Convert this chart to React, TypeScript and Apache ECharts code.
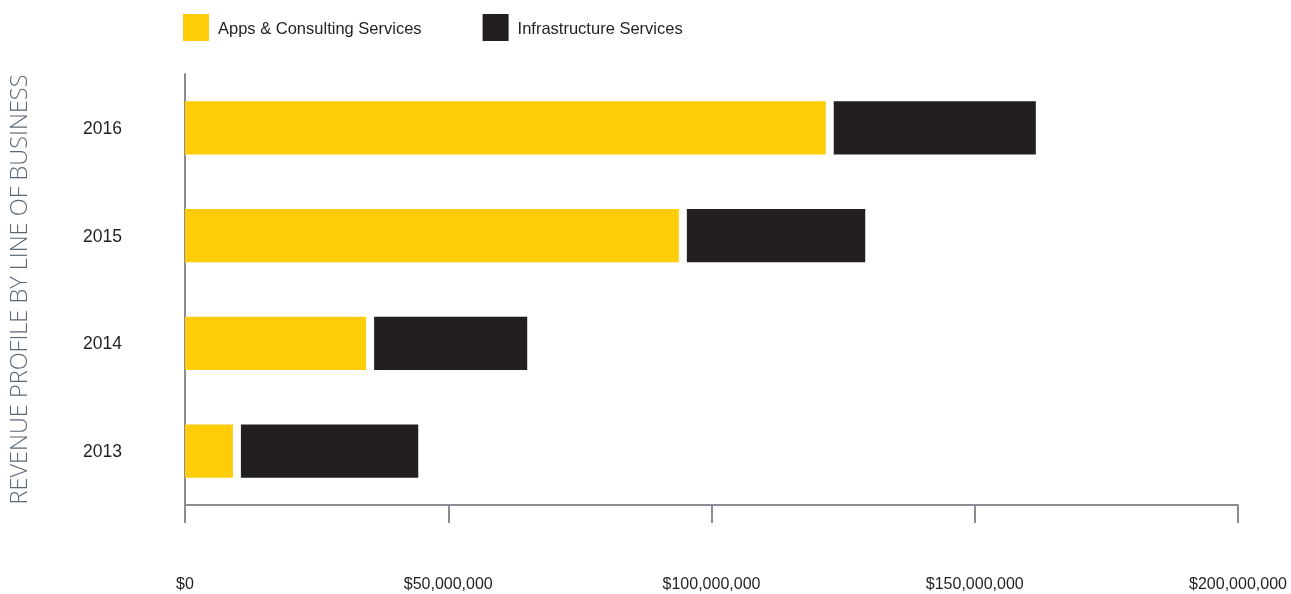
import React, { useEffect, useRef } from "react";
import * as echarts from "echarts";

const years = ["2013", "2014", "2015", "2016"];
const appsConsulting = [9100000, 34400000, 93800000, 121700000];
const infrastructure = [35200000, 30600000, 35400000, 39900000];
const xTicks = [0, 50000000, 100000000, 150000000, 200000000];

const YELLOW = "#ffcd08";
const BLACK = "#231f20";
const AXIS = "#8b8b93";
const FONT = "'Liberation Sans', Arial, sans-serif";

export default function App() {
  const ref = useRef<HTMLDivElement>(null);
  useEffect(() => {
    const chart = echarts.init(ref.current!, null, { renderer: "svg" });
    const makeRender = (gap: number) => (params: any, api: any) => {
      const cat = api.value(0);
      const s = api.value(1);
      const e = api.value(2);
      const p0 = api.coord([s, cat]);
      const p1 = api.coord([e, cat]);
      const h = api.size([0, 1])[1] * 0.492;
      return {
        type: "rect",
        shape: { x: p0[0] + gap, y: p0[1] - h / 2, width: Math.max(0, p1[0] - p0[0] - gap), height: h },
        style: api.style(),
      };
    };
    const yellowData = years.map((_, i) => [i, 0, appsConsulting[i]]);
    const blackData = years.map((_, i) => [i, appsConsulting[i], appsConsulting[i] + infrastructure[i]]);
    chart.setOption({
      animation: false,
      legend: {
        left: 178,
        top: 9,
        itemWidth: 26,
        itemHeight: 27,
        itemGap: 61,
        icon: "rect",
        textStyle: { fontFamily: FONT, fontSize: 16.5, color: BLACK, padding: [0, 0, 0, 4] },
        data: ["Apps & Consulting Services", "Infrastructure Services"],
      },
      grid: { left: 185, right: 53, top: 74, bottom: 89, containLabel: false, outerBoundsMode: "none" },
      xAxis: {
        type: "value",
        min: xTicks[0],
        max: xTicks[xTicks.length - 1],
        interval: xTicks[1] - xTicks[0],
        axisLine: { show: true, lineStyle: { color: AXIS, width: 2 } },
        axisTick: { show: true, length: 18, lineStyle: { color: AXIS, width: 2 } },
        splitLine: { show: false },
        axisLabel: {
          margin: 70,
          fontFamily: FONT,
          fontSize: 16,
          color: BLACK,
          formatter: (v: number) => "$" + v.toLocaleString("en-US"),
        },
      },
      yAxis: {
        type: "category",
        data: years,
        name: "REVENUE PROFILE BY LINE OF BUSINESS",
        nameLocation: "middle",
        nameRotate: 90,
        nameGap: 155,
        nameTextStyle: { fontFamily: "'Open Sans', sans-serif", fontWeight: 300, fontSize: 23.5, color: "#5d6875" },
        axisLine: { show: true, lineStyle: { color: AXIS, width: 2 } },
        axisTick: { show: false },
        axisLabel: { margin: 63, fontFamily: FONT, fontSize: 17.5, color: BLACK },
      },
      series: [
        {
          name: "Apps & Consulting Services",
          type: "custom",
          renderItem: makeRender(0),
          itemStyle: { color: YELLOW },
          encode: { x: [1, 2], y: 0 },
          data: yellowData,
        },
        {
          name: "Infrastructure Services",
          type: "custom",
          renderItem: makeRender(8),
          itemStyle: { color: BLACK },
          encode: { x: [1, 2], y: 0 },
          data: blackData,
        },
      ],
    });
    return () => chart.dispose();
  }, []);
  return <div ref={ref} style={{ position: "fixed", left: 0, top: 0, width: 1291, height: 594 }} />;
}
